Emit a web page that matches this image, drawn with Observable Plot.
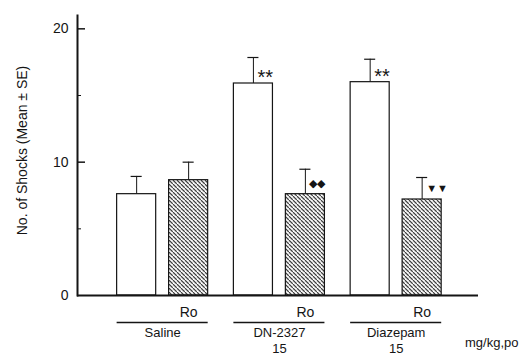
<!DOCTYPE html>
<html>
<head>
<meta charset="utf-8">
<script src="https://cdn.jsdelivr.net/npm/d3@7"></script>
<script src="https://cdn.jsdelivr.net/npm/@observablehq/plot@0.6"></script>
<style>
  html, body { margin: 0; padding: 0; background: #fff; }
  #chart { width: 519px; height: 357px; }
</style>
</head>
<body>
<div id="chart"></div>
<script>
// ---- data ----
const groups = ["Saline", "DN-2327", "Diazepam"];
const doses = ["", "15", "15"];
const treatments = ["", "Ro"];
const meanVehicle = [7.6, 15.9, 16.0];
const seVehicle = [1.33, 1.95, 1.72];
const meanRo = [8.65, 7.6, 7.2];
const seRo = [1.35, 1.87, 1.65];
const markVehicle = ["", "**", "**"];
const markRo = ["", "\u25C6\u25C6", "\u25BC\u25BC"];
const yTicks = [0, 10, 20];
const yMinorTicks = [5, 15];
const yLabel = "No. of Shocks (Mean \u00B1 SE)";
const unitLabel = "mg/kg,po";

// ---- build rows ----
const vehicleRows = groups.map((g, i) => ({key: g + "|" + treatments[0], group: g, dose: doses[i], treatment: treatments[0], mean: meanVehicle[i], se: seVehicle[i], mark: markVehicle[i]}));
const roRows = groups.map((g, i) => ({key: g + "|" + treatments[1], group: g, dose: doses[i], treatment: treatments[1], mean: meanRo[i], se: seRo[i], mark: markRo[i]}));
const keys = groups.flatMap((g) => treatments.map((t) => g + "|" + t));

const W = 519, H = 357, ML = 77, MR = 41, MT = 15, MB = 62;
const frameW = W - ML - MR;
const shift = 3.2;
const ink = "#151515";

function barMarks(rows, dx, fill, markSize, markDy, markSpacing) {
  return [
    Plot.ruleX(rows, {x: "key", y1: "mean", y2: (d) => d.mean + d.se, dx, stroke: ink, strokeWidth: 1}),
    Plot.tickY(rows, {x: "key", y: (d) => d.mean + d.se, dx, insetLeft: 14, insetRight: 14, stroke: ink, strokeWidth: 1.2}),
    Plot.barY(rows, {x: "key", y: "mean", dx, fill, stroke: ink, strokeWidth: 1.2}),
    Plot.text(rows, {x: "key", y: "mean", text: "mark", dx: dx + 4, dy: markDy, textAnchor: "start", fontSize: markSize, fill: ink, letterSpacing: markSpacing})
  ];
}

const labelStyle = {fontSize: 14, fill: ink, letterSpacing: 0.8};

const chart = Plot.plot({
  width: W,
  height: H,
  marginLeft: ML,
  marginRight: MR,
  marginTop: MT,
  marginBottom: MB,
  style: {fontFamily: "'Liberation Sans', Arial, sans-serif", fontSize: "14px", background: "#fff", color: ink},
  x: {type: "band", domain: keys, paddingInner: 0.331, paddingOuter: 0.6, align: 0.52, round: false, axis: null},
  y: {domain: [0, 21], axis: null},
  marks: [
    ...barMarks(vehicleRows, shift, "white", 20, -6, 1),
    ...barMarks(roRows, -shift, "url(#hatch)", 11, -11, 1),
    // axes
    Plot.frame({anchor: "left", stroke: ink, strokeWidth: 2}),
    Plot.ruleY([0], {stroke: ink, strokeWidth: 2}),
    Plot.tickY(yTicks.filter((d) => d > 0), {y: (d) => d, insetRight: frameW - 8, stroke: ink, strokeWidth: 1.5}),
    Plot.tickY(yMinorTicks, {y: (d) => d, insetRight: frameW - 4, stroke: ink, strokeWidth: 1}),
    Plot.text(yTicks, {y: (d) => d, text: (d) => String(d), frameAnchor: "left", textAnchor: "end", dx: -9, ...labelStyle, letterSpacing: 0.5}),
    Plot.text([yLabel], {frameAnchor: "left", textAnchor: "middle", rotate: -90, dx: -55, dy: -5, fontSize: 14, fill: ink, letterSpacing: 1.4}),
    // category labels under the axis
    Plot.text(roRows, {x: "key", y: 0, text: "treatment", dx: -shift, dy: 17, ...labelStyle}),
    Plot.tickY(vehicleRows, {x: "key", y: 0, dx: shift, dy: 27, insetRight: -52, stroke: ink, strokeWidth: 1.3}),
    Plot.text(vehicleRows, {x: "key", y: 0, text: (d) => d.dose ? d.group + "\n" + d.dose : d.group, dx: shift + 26, dy: 31, lineAnchor: "top", lineHeight: 1.17, fontSize: 13, fill: ink, letterSpacing: 1.2}),
    Plot.text([unitLabel], {frameAnchor: "bottom-right", textAnchor: "end", dx: 40, dy: 51, fontSize: 13, fill: ink, letterSpacing: 1.6})
  ]
});

d3.select(chart).insert("defs", ":first-child").html(
  '<pattern id="hatch" patternUnits="userSpaceOnUse" width="4" height="4">' +
  '<rect width="4" height="4" fill="white"/>' +
  '<path d="M-1,-1 L1,1 M0,0 L4,4 M3,3 L5,5" stroke="#1a1a1a" stroke-width="1.1"/>' +
  '</pattern>'
);

document.getElementById("chart").appendChild(chart);
</script>
</body>
</html>
